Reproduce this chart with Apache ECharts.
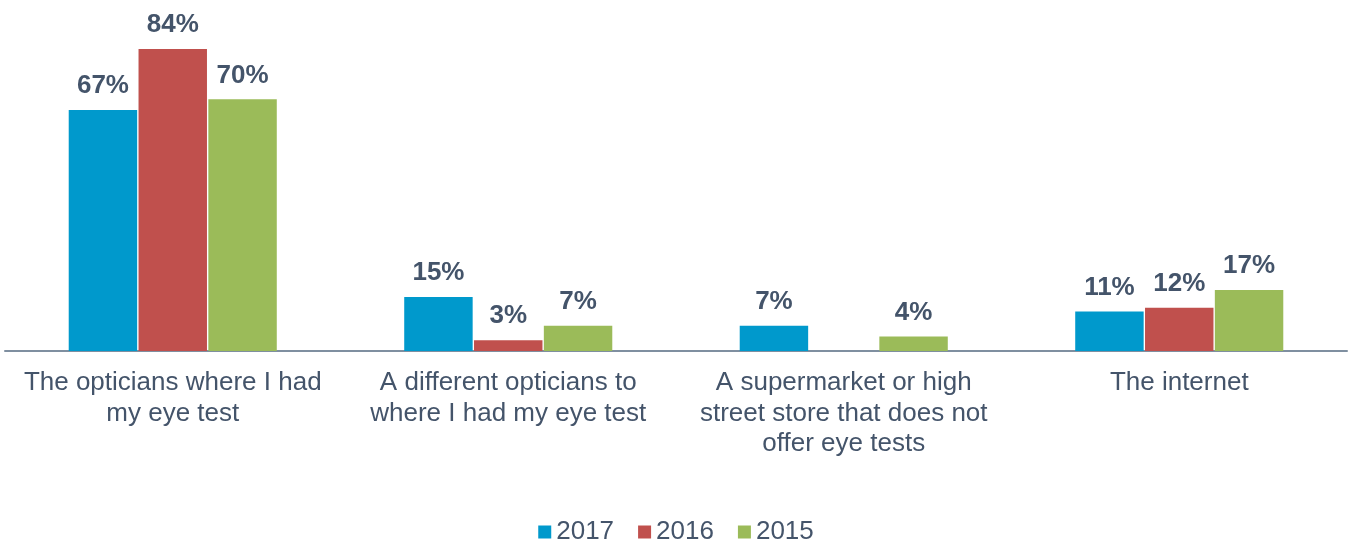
<!DOCTYPE html>
<html>
<head>
<meta charset="utf-8">
<script src="https://cdn.jsdelivr.net/npm/echarts@6/dist/echarts.min.js"></script>
<style>
html,body{margin:0;padding:0;background:#fff;}
#chart{width:1352px;height:543px;}
</style>
</head>
<body>
<div id="chart"></div>
<script>
const categories = [
  "The opticians where I had\nmy eye test",
  "A different opticians to\nwhere I had my eye test",
  "A supermarket or high\nstreet store that does not\noffer eye tests",
  "The internet"
];
const seriesNames = ["2017", "2016", "2015"];
const values2017 = [67, 15, 7, 11];
const values2016 = [84, 3, null, 12];
const values2015 = [70, 7, 4, 17];
const colors = ["#0099CC", "#C0504D", "#9BBB59"];

const textColor = "#44546A";
const font = "Liberation Sans, Arial, sans-serif";
const dataSets = [values2017, values2016, values2015];

const chart = echarts.init(document.getElementById('chart'));
chart.setOption({
  animation: false,
  color: colors,
  grid: { left: 5, right: 5, top: 49, bottom: 192, containLabel: false },
  legend: {
    bottom: -2,
    padding: 0,
    left: 'center',
    icon: 'rect',
    itemWidth: 13,
    itemHeight: 13,
    itemGap: 24,
    textStyle: { color: textColor, fontSize: 26, fontFamily: font },
    data: seriesNames
  },
  xAxis: {
    type: 'category',
    data: categories,
    axisLine: { lineStyle: { color: '#7F8FA0', width: 2 } },
    axisTick: { show: false },
    axisLabel: { color: textColor, fontSize: 26, fontFamily: font, lineHeight: 30.5, margin: 17, interval: 0 }
  },
  yAxis: {
    type: 'value',
    min: 0,
    max: 84,
    show: false,
    splitLine: { show: false }
  },
  series: seriesNames.map((name, i) => ({
    name: name,
    type: 'bar',
    data: dataSets[i],
    barWidth: '20.4%',
    barGap: '2%',
    itemStyle: { color: colors[i] },
    label: {
      show: true,
      position: 'top',
      distance: 11,
      formatter: p => p.value == null ? '' : p.value + '%',
      color: textColor,
      fontSize: 26,
      fontWeight: 'bold',
      fontFamily: font
    }
  }))
});
</script>
</body>
</html>
